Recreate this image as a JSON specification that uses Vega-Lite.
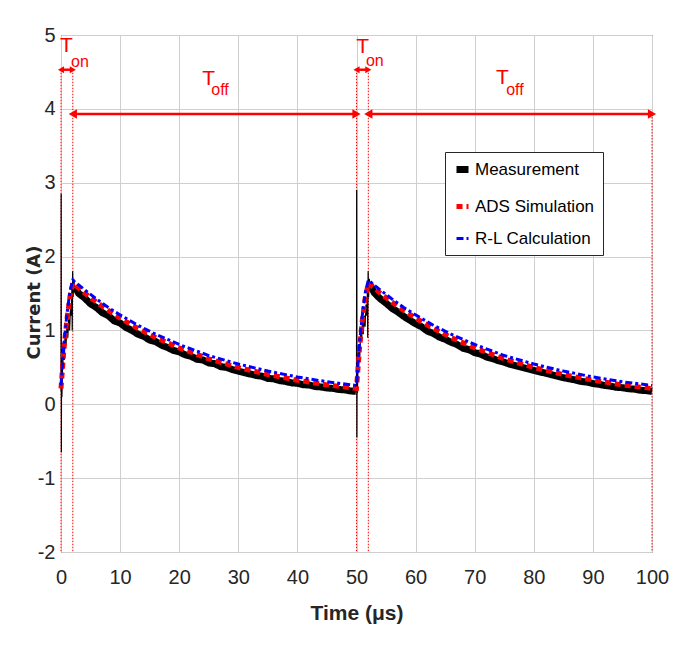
{
  "$schema": "https://vega.github.io/schema/vega-lite/v6.json",
  "width": 591,
  "height": 517,
  "autosize": {"type": "none"},
  "padding": {"left": 61, "top": 35, "right": 34, "bottom": 94},
  "background": "white",
  "datasets": {
    "lines": [
      {"series": "Measurement", "seg": "m1", "x": 2.3, "y": 1.6},
      {"series": "Measurement", "seg": "m1", "x": 3, "y": 1.5},
      {"series": "Measurement", "seg": "m1", "x": 4, "y": 1.44},
      {"series": "Measurement", "seg": "m1", "x": 5, "y": 1.36},
      {"series": "Measurement", "seg": "m1", "x": 6, "y": 1.31},
      {"series": "Measurement", "seg": "m1", "x": 7, "y": 1.24},
      {"series": "Measurement", "seg": "m1", "x": 8, "y": 1.2},
      {"series": "Measurement", "seg": "m1", "x": 9, "y": 1.13},
      {"series": "Measurement", "seg": "m1", "x": 10, "y": 1.1},
      {"series": "Measurement", "seg": "m1", "x": 11, "y": 1.04},
      {"series": "Measurement", "seg": "m1", "x": 12, "y": 1.0},
      {"series": "Measurement", "seg": "m1", "x": 13, "y": 0.95},
      {"series": "Measurement", "seg": "m1", "x": 14, "y": 0.92},
      {"series": "Measurement", "seg": "m1", "x": 15, "y": 0.87},
      {"series": "Measurement", "seg": "m1", "x": 16, "y": 0.85},
      {"series": "Measurement", "seg": "m1", "x": 17, "y": 0.8},
      {"series": "Measurement", "seg": "m1", "x": 18, "y": 0.77},
      {"series": "Measurement", "seg": "m1", "x": 19, "y": 0.73},
      {"series": "Measurement", "seg": "m1", "x": 20, "y": 0.71},
      {"series": "Measurement", "seg": "m1", "x": 21, "y": 0.67},
      {"series": "Measurement", "seg": "m1", "x": 22, "y": 0.65},
      {"series": "Measurement", "seg": "m1", "x": 23, "y": 0.61},
      {"series": "Measurement", "seg": "m1", "x": 24, "y": 0.6},
      {"series": "Measurement", "seg": "m1", "x": 25, "y": 0.56},
      {"series": "Measurement", "seg": "m1", "x": 26, "y": 0.55},
      {"series": "Measurement", "seg": "m1", "x": 27, "y": 0.51},
      {"series": "Measurement", "seg": "m1", "x": 28, "y": 0.5},
      {"series": "Measurement", "seg": "m1", "x": 29, "y": 0.47},
      {"series": "Measurement", "seg": "m1", "x": 30, "y": 0.45},
      {"series": "Measurement", "seg": "m1", "x": 31, "y": 0.43},
      {"series": "Measurement", "seg": "m1", "x": 32, "y": 0.41},
      {"series": "Measurement", "seg": "m1", "x": 33, "y": 0.39},
      {"series": "Measurement", "seg": "m1", "x": 34, "y": 0.38},
      {"series": "Measurement", "seg": "m1", "x": 35, "y": 0.35},
      {"series": "Measurement", "seg": "m1", "x": 36, "y": 0.345},
      {"series": "Measurement", "seg": "m1", "x": 37, "y": 0.32},
      {"series": "Measurement", "seg": "m1", "x": 38, "y": 0.31},
      {"series": "Measurement", "seg": "m1", "x": 39, "y": 0.29},
      {"series": "Measurement", "seg": "m1", "x": 40, "y": 0.285},
      {"series": "Measurement", "seg": "m1", "x": 41, "y": 0.265},
      {"series": "Measurement", "seg": "m1", "x": 42, "y": 0.26},
      {"series": "Measurement", "seg": "m1", "x": 43, "y": 0.24},
      {"series": "Measurement", "seg": "m1", "x": 44, "y": 0.235},
      {"series": "Measurement", "seg": "m1", "x": 45, "y": 0.22},
      {"series": "Measurement", "seg": "m1", "x": 46, "y": 0.215},
      {"series": "Measurement", "seg": "m1", "x": 47, "y": 0.2},
      {"series": "Measurement", "seg": "m1", "x": 48, "y": 0.195},
      {"series": "Measurement", "seg": "m1", "x": 49, "y": 0.18},
      {"series": "Measurement", "seg": "m1", "x": 49.9, "y": 0.175},
      {"series": "Measurement", "seg": "m2", "x": 52.3, "y": 1.62},
      {"series": "Measurement", "seg": "m2", "x": 53, "y": 1.51},
      {"series": "Measurement", "seg": "m2", "x": 54, "y": 1.43},
      {"series": "Measurement", "seg": "m2", "x": 55, "y": 1.37},
      {"series": "Measurement", "seg": "m2", "x": 56, "y": 1.3},
      {"series": "Measurement", "seg": "m2", "x": 57, "y": 1.25},
      {"series": "Measurement", "seg": "m2", "x": 58, "y": 1.19},
      {"series": "Measurement", "seg": "m2", "x": 59, "y": 1.14},
      {"series": "Measurement", "seg": "m2", "x": 60, "y": 1.09},
      {"series": "Measurement", "seg": "m2", "x": 61, "y": 1.05},
      {"series": "Measurement", "seg": "m2", "x": 62, "y": 0.99},
      {"series": "Measurement", "seg": "m2", "x": 63, "y": 0.96},
      {"series": "Measurement", "seg": "m2", "x": 64, "y": 0.91},
      {"series": "Measurement", "seg": "m2", "x": 65, "y": 0.88},
      {"series": "Measurement", "seg": "m2", "x": 66, "y": 0.84},
      {"series": "Measurement", "seg": "m2", "x": 67, "y": 0.81},
      {"series": "Measurement", "seg": "m2", "x": 68, "y": 0.76},
      {"series": "Measurement", "seg": "m2", "x": 69, "y": 0.74},
      {"series": "Measurement", "seg": "m2", "x": 70, "y": 0.7},
      {"series": "Measurement", "seg": "m2", "x": 71, "y": 0.68},
      {"series": "Measurement", "seg": "m2", "x": 72, "y": 0.64},
      {"series": "Measurement", "seg": "m2", "x": 73, "y": 0.62},
      {"series": "Measurement", "seg": "m2", "x": 74, "y": 0.59},
      {"series": "Measurement", "seg": "m2", "x": 75, "y": 0.57},
      {"series": "Measurement", "seg": "m2", "x": 76, "y": 0.54},
      {"series": "Measurement", "seg": "m2", "x": 77, "y": 0.52},
      {"series": "Measurement", "seg": "m2", "x": 78, "y": 0.5},
      {"series": "Measurement", "seg": "m2", "x": 79, "y": 0.48},
      {"series": "Measurement", "seg": "m2", "x": 80, "y": 0.46},
      {"series": "Measurement", "seg": "m2", "x": 81, "y": 0.44},
      {"series": "Measurement", "seg": "m2", "x": 82, "y": 0.42},
      {"series": "Measurement", "seg": "m2", "x": 83, "y": 0.4},
      {"series": "Measurement", "seg": "m2", "x": 84, "y": 0.38},
      {"series": "Measurement", "seg": "m2", "x": 85, "y": 0.36},
      {"series": "Measurement", "seg": "m2", "x": 86, "y": 0.345},
      {"series": "Measurement", "seg": "m2", "x": 87, "y": 0.33},
      {"series": "Measurement", "seg": "m2", "x": 88, "y": 0.31},
      {"series": "Measurement", "seg": "m2", "x": 89, "y": 0.3},
      {"series": "Measurement", "seg": "m2", "x": 90, "y": 0.28},
      {"series": "Measurement", "seg": "m2", "x": 91, "y": 0.27},
      {"series": "Measurement", "seg": "m2", "x": 92, "y": 0.255},
      {"series": "Measurement", "seg": "m2", "x": 93, "y": 0.245},
      {"series": "Measurement", "seg": "m2", "x": 94, "y": 0.23},
      {"series": "Measurement", "seg": "m2", "x": 95, "y": 0.225},
      {"series": "Measurement", "seg": "m2", "x": 96, "y": 0.21},
      {"series": "Measurement", "seg": "m2", "x": 97, "y": 0.205},
      {"series": "Measurement", "seg": "m2", "x": 98, "y": 0.19},
      {"series": "Measurement", "seg": "m2", "x": 99, "y": 0.185},
      {"series": "Measurement", "seg": "m2", "x": 100, "y": 0.175},
      {"series": "ADS Simulation", "seg": "r", "x": 0, "y": 0.213},
      {"series": "ADS Simulation", "seg": "r", "x": 0.5, "y": 0.75},
      {"series": "ADS Simulation", "seg": "r", "x": 1, "y": 1.15},
      {"series": "ADS Simulation", "seg": "r", "x": 1.5, "y": 1.45},
      {"series": "ADS Simulation", "seg": "r", "x": 2, "y": 1.64},
      {"series": "ADS Simulation", "seg": "r", "x": 4, "y": 1.506},
      {"series": "ADS Simulation", "seg": "r", "x": 6, "y": 1.383},
      {"series": "ADS Simulation", "seg": "r", "x": 8, "y": 1.271},
      {"series": "ADS Simulation", "seg": "r", "x": 10, "y": 1.167},
      {"series": "ADS Simulation", "seg": "r", "x": 13, "y": 1.027},
      {"series": "ADS Simulation", "seg": "r", "x": 16, "y": 0.904},
      {"series": "ADS Simulation", "seg": "r", "x": 20, "y": 0.763},
      {"series": "ADS Simulation", "seg": "r", "x": 25, "y": 0.616},
      {"series": "ADS Simulation", "seg": "r", "x": 30, "y": 0.498},
      {"series": "ADS Simulation", "seg": "r", "x": 35, "y": 0.403},
      {"series": "ADS Simulation", "seg": "r", "x": 40, "y": 0.326},
      {"series": "ADS Simulation", "seg": "r", "x": 45, "y": 0.263},
      {"series": "ADS Simulation", "seg": "r", "x": 50, "y": 0.213},
      {"series": "ADS Simulation", "seg": "r", "x": 50.5, "y": 0.75},
      {"series": "ADS Simulation", "seg": "r", "x": 51, "y": 1.15},
      {"series": "ADS Simulation", "seg": "r", "x": 51.5, "y": 1.45},
      {"series": "ADS Simulation", "seg": "r", "x": 52, "y": 1.64},
      {"series": "ADS Simulation", "seg": "r", "x": 54, "y": 1.506},
      {"series": "ADS Simulation", "seg": "r", "x": 56, "y": 1.383},
      {"series": "ADS Simulation", "seg": "r", "x": 58, "y": 1.271},
      {"series": "ADS Simulation", "seg": "r", "x": 60, "y": 1.167},
      {"series": "ADS Simulation", "seg": "r", "x": 63, "y": 1.027},
      {"series": "ADS Simulation", "seg": "r", "x": 66, "y": 0.904},
      {"series": "ADS Simulation", "seg": "r", "x": 70, "y": 0.763},
      {"series": "ADS Simulation", "seg": "r", "x": 75, "y": 0.616},
      {"series": "ADS Simulation", "seg": "r", "x": 80, "y": 0.498},
      {"series": "ADS Simulation", "seg": "r", "x": 85, "y": 0.403},
      {"series": "ADS Simulation", "seg": "r", "x": 90, "y": 0.326},
      {"series": "ADS Simulation", "seg": "r", "x": 95, "y": 0.263},
      {"series": "ADS Simulation", "seg": "r", "x": 100, "y": 0.213},
      {"series": "R-L Calculation", "seg": "b", "x": 0, "y": 0.255},
      {"series": "R-L Calculation", "seg": "b", "x": 0.5, "y": 0.82},
      {"series": "R-L Calculation", "seg": "b", "x": 1, "y": 1.22},
      {"series": "R-L Calculation", "seg": "b", "x": 1.5, "y": 1.52},
      {"series": "R-L Calculation", "seg": "b", "x": 2, "y": 1.68},
      {"series": "R-L Calculation", "seg": "b", "x": 4, "y": 1.55},
      {"series": "R-L Calculation", "seg": "b", "x": 6, "y": 1.425},
      {"series": "R-L Calculation", "seg": "b", "x": 8, "y": 1.31},
      {"series": "R-L Calculation", "seg": "b", "x": 10, "y": 1.21},
      {"series": "R-L Calculation", "seg": "b", "x": 13, "y": 1.07},
      {"series": "R-L Calculation", "seg": "b", "x": 16, "y": 0.95},
      {"series": "R-L Calculation", "seg": "b", "x": 20, "y": 0.81},
      {"series": "R-L Calculation", "seg": "b", "x": 25, "y": 0.66},
      {"series": "R-L Calculation", "seg": "b", "x": 30, "y": 0.545},
      {"series": "R-L Calculation", "seg": "b", "x": 35, "y": 0.45},
      {"series": "R-L Calculation", "seg": "b", "x": 40, "y": 0.37},
      {"series": "R-L Calculation", "seg": "b", "x": 45, "y": 0.305},
      {"series": "R-L Calculation", "seg": "b", "x": 50, "y": 0.255},
      {"series": "R-L Calculation", "seg": "b", "x": 50.5, "y": 0.82},
      {"series": "R-L Calculation", "seg": "b", "x": 51, "y": 1.22},
      {"series": "R-L Calculation", "seg": "b", "x": 51.5, "y": 1.52},
      {"series": "R-L Calculation", "seg": "b", "x": 52, "y": 1.68},
      {"series": "R-L Calculation", "seg": "b", "x": 54, "y": 1.55},
      {"series": "R-L Calculation", "seg": "b", "x": 56, "y": 1.425},
      {"series": "R-L Calculation", "seg": "b", "x": 58, "y": 1.31},
      {"series": "R-L Calculation", "seg": "b", "x": 60, "y": 1.21},
      {"series": "R-L Calculation", "seg": "b", "x": 63, "y": 1.07},
      {"series": "R-L Calculation", "seg": "b", "x": 66, "y": 0.95},
      {"series": "R-L Calculation", "seg": "b", "x": 70, "y": 0.81},
      {"series": "R-L Calculation", "seg": "b", "x": 75, "y": 0.66},
      {"series": "R-L Calculation", "seg": "b", "x": 80, "y": 0.545},
      {"series": "R-L Calculation", "seg": "b", "x": 85, "y": 0.45},
      {"series": "R-L Calculation", "seg": "b", "x": 90, "y": 0.37},
      {"series": "R-L Calculation", "seg": "b", "x": 95, "y": 0.305},
      {"series": "R-L Calculation", "seg": "b", "x": 100, "y": 0.255}
    ],
    "thin": [
      {"seg": "p1", "x": 0, "y": 0.18},
      {"seg": "p1", "x": 0.03, "y": 2.85},
      {"seg": "p1", "x": 0.06, "y": -0.65},
      {"seg": "p1", "x": 0.1, "y": 0.75},
      {"seg": "p1", "x": 0.15, "y": 0.1},
      {"seg": "p1", "x": 0.25, "y": 0.45},
      {"seg": "p1", "x": 0.4, "y": 0.7},
      {"seg": "p1", "x": 0.55, "y": 0.6},
      {"seg": "p1", "x": 0.7, "y": 0.95},
      {"seg": "p1", "x": 0.85, "y": 0.8},
      {"seg": "p1", "x": 1.0, "y": 1.05},
      {"seg": "p1", "x": 1.15, "y": 0.9},
      {"seg": "p1", "x": 1.3, "y": 1.15},
      {"seg": "p1", "x": 1.45, "y": 1.0},
      {"seg": "p1", "x": 1.6, "y": 1.3},
      {"seg": "p1", "x": 1.75, "y": 1.2},
      {"seg": "p1", "x": 1.85, "y": 1.6},
      {"seg": "p1", "x": 1.9, "y": 1.0},
      {"seg": "p1", "x": 1.97, "y": 1.8},
      {"seg": "p1", "x": 2.05, "y": 1.45},
      {"seg": "p1", "x": 2.15, "y": 1.7},
      {"seg": "p1", "x": 2.3, "y": 1.6},
      {"seg": "p2", "x": 50, "y": 0.17},
      {"seg": "p2", "x": 50.03, "y": 2.9},
      {"seg": "p2", "x": 50.06, "y": -0.45},
      {"seg": "p2", "x": 50.1, "y": 0.8},
      {"seg": "p2", "x": 50.15, "y": 0.15},
      {"seg": "p2", "x": 50.25, "y": 0.5},
      {"seg": "p2", "x": 50.4, "y": 0.75},
      {"seg": "p2", "x": 50.55, "y": 0.65},
      {"seg": "p2", "x": 50.7, "y": 1.0},
      {"seg": "p2", "x": 50.85, "y": 0.85},
      {"seg": "p2", "x": 51.0, "y": 1.1},
      {"seg": "p2", "x": 51.15, "y": 0.95},
      {"seg": "p2", "x": 51.3, "y": 1.2},
      {"seg": "p2", "x": 51.45, "y": 1.05},
      {"seg": "p2", "x": 51.6, "y": 1.35},
      {"seg": "p2", "x": 51.75, "y": 1.2},
      {"seg": "p2", "x": 51.85, "y": 1.55},
      {"seg": "p2", "x": 51.9, "y": 0.9},
      {"seg": "p2", "x": 51.97, "y": 1.8},
      {"seg": "p2", "x": 52.05, "y": 1.45},
      {"seg": "p2", "x": 52.15, "y": 1.7},
      {"seg": "p2", "x": 52.3, "y": 1.62}
    ],
    "markers": [
      {"x": 0, "y": 4.53, "y2": -2},
      {"x": 2, "y": 4.53, "y2": -2},
      {"x": 50, "y": 4.53, "y2": -2},
      {"x": 52, "y": 4.53, "y2": -2},
      {"x": 100, "y": 3.93, "y2": -2}
    ],
    "arrows": [
      {"x": 0, "x2": 2, "y": 4.53},
      {"x": 2, "x2": 50, "y": 3.93},
      {"x": 50, "x2": 52, "y": 4.53},
      {"x": 52, "x2": 100, "y": 3.93}
    ],
    "heads": [
      {"x": 0, "y": 4.53, "dir": "left", "kind": "on"},
      {"x": 2, "y": 4.53, "dir": "right", "kind": "on"},
      {"x": 50, "y": 4.53, "dir": "left", "kind": "on"},
      {"x": 52, "y": 4.53, "dir": "right", "kind": "on"},
      {"x": 2, "y": 3.93, "dir": "left", "kind": "off"},
      {"x": 50, "y": 3.93, "dir": "right", "kind": "off"},
      {"x": 52, "y": 3.93, "dir": "left", "kind": "off"},
      {"x": 100, "y": 3.93, "dir": "right", "kind": "off"}
    ],
    "bigT": [
      {"x": 0.9, "y": 4.85, "label": "T"},
      {"x": 25.0, "y": 4.41, "label": "T"},
      {"x": 51.05, "y": 4.84, "label": "T"},
      {"x": 74.7, "y": 4.42, "label": "T"}
    ],
    "subT": [
      {"x": 3.2, "y": 4.64, "label": "on"},
      {"x": 26.9, "y": 4.25, "label": "off"},
      {"x": 53.1, "y": 4.65, "label": "on"},
      {"x": 76.8, "y": 4.25, "label": "off"}
    ]
  },
  "encoding": {
    "x": {
      "field": "x",
      "type": "quantitative",
      "scale": {"domain": [0, 100], "nice": false, "zero": false},
      "axis": {
        "title": "Time (μs)",
        "values": [0, 10, 20, 30, 40, 50, 60, 70, 80, 90, 100],
        "labelExpr": "toString(datum.value)",
        "labelFlush": false,
        "labelPadding": 15,
        "titleFont": "Liberation Sans",
        "titleFontWeight": "bold",
        "titleFontSize": 21,
        "titleY": 61,
        "titleBaseline": "middle"
      }
    },
    "y": {
      "field": "y",
      "type": "quantitative",
      "scale": {"domain": [-2, 5], "nice": false, "zero": false},
      "axis": {
        "title": "Current (A)",
        "values": [-2, -1, 0, 1, 2, 3, 4, 5],
        "labelExpr": "toString(datum.value)",
        "labelFlush": false,
        "labelPadding": 6,
        "titleFont": "DejaVu Sans",
        "titleFontWeight": "bold",
        "titleFontSize": 18,
        "titleX": -27,
        "titleY": 267,
        "titleBaseline": "middle"
      }
    }
  },
  "layer": [
    {
      "data": {"name": "markers"},
      "mark": {"type": "rule", "color": "#ff0000", "strokeWidth": 1, "strokeDash": [1.5, 1.5]},
      "encoding": {"y2": {"field": "y2"}}
    },
    {
      "data": {"name": "thin"},
      "mark": {"type": "line", "color": "#000000", "strokeWidth": 1.2},
      "encoding": {"detail": {"field": "seg"}}
    },
    {
      "data": {"name": "lines"},
      "mark": {"type": "line"},
      "encoding": {
        "detail": {"field": "seg"},
        "color": {
          "field": "series",
          "type": "nominal",
          "scale": {
            "domain": ["Measurement", "ADS Simulation", "R-L Calculation"],
            "range": ["#000000", "#ff0000", "#0000ff"]
          },
          "legend": {"orient": "none", "legendX": 384, "legendY": 117, "title": null}
        },
        "strokeDash": {
          "field": "series",
          "type": "nominal",
          "scale": {
            "domain": ["Measurement", "ADS Simulation", "R-L Calculation"],
            "range": [[1, 0], [6, 4], [7, 3, 3, 3]]
          },
          "legend": {"orient": "none", "legendX": 384, "legendY": 117, "title": null}
        },
        "strokeWidth": {
          "field": "series",
          "type": "nominal",
          "scale": {
            "domain": ["Measurement", "ADS Simulation", "R-L Calculation"],
            "range": [7, 3, 4]
          },
          "legend": null
        }
      }
    },
    {
      "data": {"name": "arrows"},
      "mark": {"type": "rule", "color": "#ff0000", "strokeWidth": 2.5},
      "encoding": {"x2": {"field": "x2"}}
    },
    {
      "data": {"name": "heads"},
      "transform": [{"filter": "datum.kind == 'on' && datum.dir == 'left'"}],
      "mark": {"type": "point", "shape": "triangle-left", "filled": true, "color": "#ff0000", "size": 50, "opacity": 1}
    },
    {
      "data": {"name": "heads"},
      "transform": [{"filter": "datum.kind == 'on' && datum.dir == 'right'"}],
      "mark": {"type": "point", "shape": "triangle-right", "filled": true, "color": "#ff0000", "size": 50, "opacity": 1}
    },
    {
      "data": {"name": "heads"},
      "transform": [{"filter": "datum.kind == 'off' && datum.dir == 'left'"}],
      "mark": {"type": "point", "shape": "triangle-left", "filled": true, "color": "#ff0000", "size": 90, "opacity": 1}
    },
    {
      "data": {"name": "heads"},
      "transform": [{"filter": "datum.kind == 'off' && datum.dir == 'right'"}],
      "mark": {"type": "point", "shape": "triangle-right", "filled": true, "color": "#ff0000", "size": 90, "opacity": 1}
    },
    {
      "data": {"name": "bigT"},
      "mark": {"type": "text", "color": "#ff0000", "fontSize": 21, "font": "Liberation Sans", "align": "center", "baseline": "middle"},
      "encoding": {"text": {"field": "label"}}
    },
    {
      "data": {"name": "subT"},
      "mark": {"type": "text", "color": "#ff0000", "fontSize": 16, "font": "Liberation Sans", "align": "center", "baseline": "middle"},
      "encoding": {"text": {"field": "label"}}
    }
  ],
  "config": {
    "view": {"stroke": "#262626", "strokeWidth": 1},
    "axis": {
      "grid": true,
      "gridColor": "#cfcfcf",
      "gridWidth": 1,
      "domain": false,
      "ticks": false,
      "labelFont": "Liberation Sans",
      "labelFontSize": 20,
      "labelColor": "#262626",
      "titleColor": "#262626"
    },
    "legend": {
      "padding": 8,
      "strokeColor": "#262626",
      "fillColor": "white",
      "labelFont": "Liberation Sans",
      "labelFontSize": 17,
      "labelColor": "#000000",
      "symbolType": "stroke",
      "symbolSize": 144,
      "symbolStrokeWidth": 3,
      "rowPadding": 12,
      "labelOffset": 3,
      "cornerRadius": 0
    }
  }
}
